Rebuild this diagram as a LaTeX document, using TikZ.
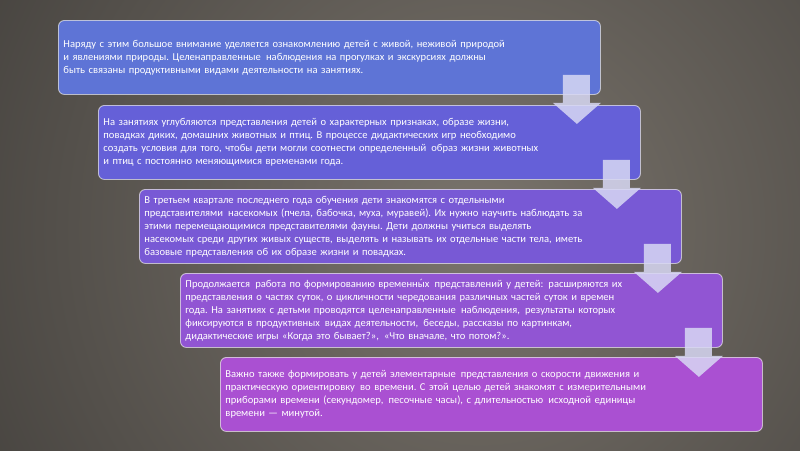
\documentclass[tikz,border=0pt]{standalone}
\usepackage{fontspec}
\setmainfont{Carlito}
\frenchspacing
\usetikzlibrary{calc}
\definecolor{bgin}{HTML}{7A746C}
\definecolor{bgout}{HTML}{1F1E1D}
\definecolor{cA}{HTML}{5E74D6}
\definecolor{cB}{HTML}{6560D8}
\definecolor{cC}{HTML}{7859D5}
\definecolor{cD}{HTML}{9155D3}
\definecolor{cE}{HTML}{AA50D2}
\definecolor{arr}{HTML}{D8D8F4}
\newcommand{\dsp}{\kern1.6pt}
\newcommand{\accy}{\setbox0\hbox{ы}\rlap{\hbox to \wd0{\hss\raisebox{0.5pt}{\symbol{"00B4}}\hss}}ы}
\tikzset{
  stepbox/.style={draw=white, draw opacity=0.6, line width=0.9pt, rounded corners=6pt,
    minimum width=542pt, minimum height=74pt, text width=532pt, inner xsep=5pt,
    align=left, anchor=north west, text=white,
    font=\fontsize{10.55}{13}\selectfont},
  blockarrow/.style={fill=arr, fill opacity=0.85, draw=none}
}
\newcommand{\blockarr}[1]{%
  \fill[blockarrow] ($(#1.south east)+(-38,-20)$) -- ($(#1.south east)+(-11,-20)$)
    -- ($(#1.south east)+(-11,8)$) -- ($(#1.south east)+(0,8)$)
    -- ($(#1.south east)+(-24,29)$) -- ($(#1.south east)+(-48,8)$)
    -- ($(#1.south east)+(-38,8)$) -- cycle;}
\begin{document}
\begin{tikzpicture}[x=1pt,y=-1pt]
\useasboundingbox (0,0) rectangle (800,450);
\begin{scope}
\clip (0,0) rectangle (800,450);
\shade[inner color=bgin, outer color=bgout] (-520,-770) rectangle (1480,1230);
\end{scope}
\node[stepbox, fill=cA] (b1) at (58,20) {Наряду с этим большое внимание уделяется ознакомлению детей с живой, неживой природой\\
и явлениями природы. Целенаправленные \dsp наблюдения на прогулках и экскурсиях должны\\
быть связаны продуктивными видами деятельности на занятиях.};
\node[stepbox, fill=cB] (b2) at (98,105) {На занятиях углубляются представления детей о характерных признаках, образе жизни,\\
повадках диких, домашних животных и птиц. В процессе дидактических игр необходимо\\
создать условия для того, чтобы дети могли соотнести определенный \dsp образ жизни животных\\
и птиц с постоянно меняющимися временами года.};
\node[stepbox, fill=cC] (b3) at (139,189) {В третьем квартале последнего года обучения дети знакомятся с отдельными\\
представителями \dsp насекомых (пчела, бабочка, муха, муравей). Их нужно научить наблюдать за\\
этими перемещающимися представителями фауны. Дети должны учиться выделять\\
насекомых среди других живых существ, выделять и называть их отдельные части тела, иметь\\
базовые представления об их образе жизни и повадках.};
\node[stepbox, fill=cD] (b4) at (180,273) {Продолжается \dsp работа по формированию временн\accy х \dsp представлений у детей: \dsp расширяются их\\
представления о частях суток, о цикличности чередования различных частей суток и времен\\
года. На занятиях с детьми проводятся целенаправленные \dsp наблюдения, \dsp результаты которых\\
фиксируются в продуктивных \dsp видах деятельности, \dsp беседы, рассказы по картинкам,\\
дидактические игры «Когда это бывает?», \dsp «Что вначале, что потом?».};
\node[stepbox, fill=cE] (b5) at (220,357) {Важно также формировать у детей элементарные \dsp представления о скорости движения и\\
практическую ориентировку \dsp во времени. С этой целью детей знакомят с измерительными\\
приборами времени (секундомер, \dsp песочные часы), с длительностью \dsp исходной единицы\\
времени — минутой.};
\blockarr{b1}
\blockarr{b2}
\blockarr{b3}
\blockarr{b4}
\end{tikzpicture}
\end{document}
